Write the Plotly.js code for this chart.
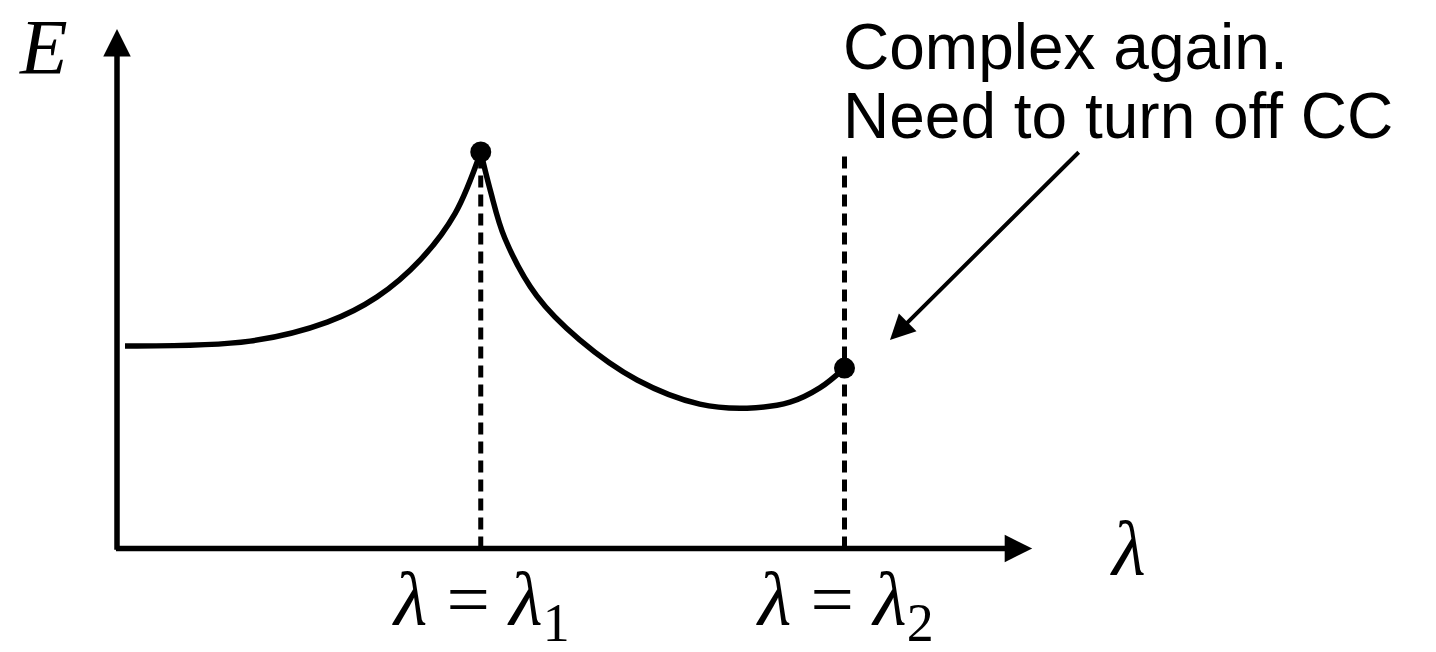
<!DOCTYPE html>
<html>
<head>
<meta charset="utf-8">
<script src="https://cdn.plot.ly/plotly-3.0.1.min.js"></script>
<style>html,body{margin:0;padding:0;background:#fff;}#chart{width:1436px;height:652px;}</style>
</head>
<body>
<div id="chart"></div>
<script>
// Schematic values (lambda and E in arbitrary units)
const lambdaMarks = [5, 10];                 // lambda_1, lambda_2
const markSubs = ['1', '2'];
const dashTopE = [10, 10];

// Branch rising to the cusp at lambda_1
const leftLambda = [0.11, 1.83, 2.89, 3.57, 4.17, 4.65, 5.0];
const leftE      = [5.11, 5.23, 5.71, 6.34, 7.28, 8.46, 10.0];

// Branch after the cusp, ending at lambda_2
const rightLambda = [5.0, 5.13, 5.33, 5.77, 6.36, 7.15, 8.01, 8.66, 9.25, 9.66, 10.0];
const rightE      = [10.0, 9.04, 7.83, 6.37, 5.26, 4.25, 3.64, 3.54, 3.69, 4.05, 4.55];

const endPointsLambda = [5, 10];
const endPointsE = [10, 4.55];

const calloutLines = ['Complex again.', 'Need to turn off CC'];

const axisLambdaMax = 12.58;
const axisEMax = 13.1;

const black = '#000000';

const traces = [];
lambdaMarks.forEach((l, i) => {
  traces.push({
    x: [l, l], y: [0, dashTopE[i]], mode: 'lines', type: 'scatter',
    line: {color: black, width: 5, dash: '12px,7px'}, hoverinfo: 'skip'
  });
});
traces.push({x: leftLambda, y: leftE, mode: 'lines', type: 'scatter',
  line: {color: black, width: 5.5, shape: 'spline', smoothing: 1}, hoverinfo: 'skip'});
traces.push({x: rightLambda, y: rightE, mode: 'lines', type: 'scatter',
  line: {color: black, width: 5.5, shape: 'spline', smoothing: 1}, hoverinfo: 'skip'});
traces.push({x: endPointsLambda, y: endPointsE, mode: 'markers', type: 'scatter',
  marker: {color: black, size: 21}, hoverinfo: 'skip'});

const serif = 'Liberation Serif, Times New Roman, serif';
const sans = 'Liberation Sans, Arial, Helvetica, sans-serif';

const annotations = [
  // axes with arrowheads
  {x: 0, y: axisEMax, ax: 0, ay: -0.07, xref: 'x', yref: 'y', axref: 'x', ayref: 'y',
   text: '', showarrow: true, arrowhead: 2, arrowsize: 1, arrowwidth: 5.5, arrowcolor: black, standoff: 0},
  {x: axisLambdaMax, y: 0, ax: -0.035, ay: 0, xref: 'x', yref: 'y', axref: 'x', ayref: 'y',
   text: '', showarrow: true, arrowhead: 2, arrowsize: 1, arrowwidth: 5.5, arrowcolor: black, standoff: 0},
  // callout arrow
  {x: 10.625, y: 5.26, ax: 13.24, ay: 10.03, xref: 'x', yref: 'y', axref: 'x', ayref: 'y',
   text: '', showarrow: true, arrowhead: 2, arrowsize: 1.25, arrowwidth: 4, arrowcolor: black, standoff: 0},
  // axis labels
  {x: 0.03, y: 0.998, xref: 'paper', yref: 'paper', text: '<i>E</i>', showarrow: false,
   font: {family: serif, size: 78, color: black}, xanchor: 'center', yanchor: 'top'},
  {x: 13.9, y: 0.0, xref: 'x', yref: 'y', text: '<i>λ</i>', showarrow: false,
   font: {family: serif, size: 78, color: black}, xanchor: 'center', yanchor: 'middle'},
  // callout text
  {x: 9.95, y: 12.64, xref: 'x', yref: 'y', text: calloutLines[0], showarrow: false,
   font: {family: sans, size: 64, color: black}, xanchor: 'left', yanchor: 'middle'},
  {x: 9.95, y: 10.92, xref: 'x', yref: 'y', text: calloutLines[1], showarrow: false,
   font: {family: sans, size: 64, color: black}, xanchor: 'left', yanchor: 'middle'}
];
lambdaMarks.forEach((l, i) => {
  annotations.push({x: l, y: -1.42, xref: 'x', yref: 'y',
    text: '<i>λ</i> = <i>λ</i><sub>' + markSubs[i] + '</sub>',
    showarrow: false, font: {family: serif, size: 77, color: black},
    xanchor: 'center', yanchor: 'middle'});
});

const layout = {
  width: 1436, height: 652, autosize: false,
  margin: {l: 0, r: 0, t: 0, b: 0, pad: 0},
  paper_bgcolor: '#ffffff', plot_bgcolor: '#ffffff',
  showlegend: false,
  xaxis: {visible: false, range: [-1.6082, 18.1306], fixedrange: true},
  yaxis: {visible: false, range: [-2.610, 13.833], fixedrange: true},
  annotations: annotations
};

Plotly.newPlot('chart', traces, layout, {displayModeBar: false, staticPlot: true});
</script>
</body>
</html>
